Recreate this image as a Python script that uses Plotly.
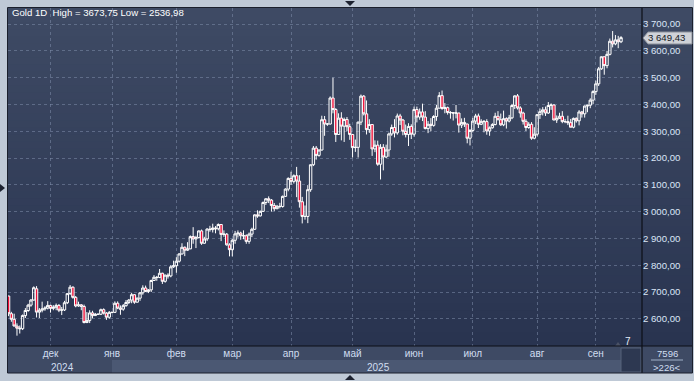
import plotly.graph_objects as go
import pandas as pd

# ---------------- data (XAU daily candles) ----------------
dates = pd.bdate_range("2024-11-11", "2025-09-12")

opens = [
    # Nov
    2685, 2619, 2598, 2573, 2565, 2563, 2612, 2631, 2651, 2670, 2712, 2625, 2632, 2637, 2640,
    # Dec
    2650, 2639, 2643, 2650, 2632, 2633, 2660, 2694, 2718, 2680, 2648, 2652, 2646, 2586, 2594,
    2622, 2612, 2617, 2617, 2634, 2621, 2606,
    # Jan
    2624, 2624, 2658, 2640, 2636, 2649, 2661, 2670, 2690, 2662, 2677, 2697, 2715, 2702, 2708,
    2743, 2755, 2754, 2770, 2740, 2763, 2760, 2794,
    # Feb
    2798, 2815, 2842, 2867, 2856, 2861, 2907, 2898, 2903, 2928, 2882, 2898, 2935, 2933, 2939,
    2936, 2952, 2915, 2916, 2876,
    # Mar
    2858, 2893, 2917, 2920, 2910, 2910, 2889, 2916, 2934, 2988, 2984, 3001, 3034, 3048, 3043,
    3023, 3011, 3020, 3019, 3057, 3084,
    # Apr
    3124, 3113, 3134, 3114, 3037, 2982, 2982, 3082, 3175, 3237, 3210, 3230, 3343, 3327, 3327,
    3424, 3381, 3288, 3349, 3319, 3344, 3317,
    # May
    3288, 3239, 3240, 3334, 3431, 3365, 3306, 3325, 3234, 3248, 3177, 3240, 3204, 3230, 3290,
    3314, 3294, 3357, 3342, 3300, 3288, 3318,
    # Jun
    3289, 3381, 3353, 3372, 3353, 3310, 3326, 3322, 3355, 3386, 3433, 3385, 3388, 3370, 3369,
    3368, 3368, 3323, 3333, 3327, 3274,
    # Jul
    3303, 3338, 3357, 3326, 3337, 3336, 3301, 3313, 3325, 3356, 3343, 3324, 3347, 3338, 3350,
    3396, 3432, 3387, 3368, 3337, 3314, 3326, 3274,
    # Aug
    3289, 3362, 3373, 3380, 3368, 3396, 3398, 3342, 3348, 3356, 3336, 3336, 3332, 3315, 3348,
    3339, 3372, 3365, 3394, 3397, 3416,
    # Sep
    3448, 3477, 3533, 3578, 3545, 3587, 3636, 3626, 3641, 3634,
]
highs = [
    2686, 2626, 2619, 2583, 2575, 2616, 2640, 2656, 2674, 2721, 2722, 2640, 2664, 2647, 2666,
    2652, 2651, 2657, 2655, 2644, 2667, 2695, 2726, 2721, 2685, 2664, 2655, 2653, 2625, 2632,
    2630, 2622, 2619, 2638, 2639, 2625, 2629,
    2626, 2665, 2665, 2650, 2655, 2670, 2674, 2697, 2692, 2679, 2700, 2725, 2724, 2711, 2746,
    2763, 2760, 2786, 2772, 2765, 2770, 2800, 2817,
    2830, 2845, 2882, 2870, 2886, 2911, 2942, 2910, 2930, 2933, 2906, 2938, 2947, 2955, 2946,
    2956, 2953, 2930, 2920, 2882,
    2898, 2928, 2930, 2925, 2930, 2915, 2922, 2940, 2990, 3005, 3004, 3038, 3050, 3057, 3047,
    3032, 3025, 3033, 3060, 3087, 3128,
    3149, 3139, 3167, 3136, 3055, 3023, 3099, 3176, 3245, 3245, 3232, 3358, 3357, 3330, 3430,
    3500, 3386, 3367, 3371, 3351, 3353, 3328,
    3290, 3269, 3336, 3437, 3435, 3415, 3345, 3327, 3266, 3265, 3252, 3252, 3250, 3295, 3325,
    3345, 3366, 3365, 3346, 3325, 3330, 3326,
    3392, 3392, 3385, 3403, 3375, 3338, 3349, 3360, 3398, 3446, 3452, 3405, 3392, 3375, 3371,
    3398, 3369, 3348, 3350, 3328, 3308,
    3350, 3365, 3366, 3345, 3342, 3345, 3318, 3330, 3369, 3375, 3366, 3377, 3352, 3361, 3402,
    3434, 3439, 3393, 3373, 3345, 3334, 3334, 3315,
    3363, 3385, 3390, 3392, 3409, 3404, 3401, 3359, 3369, 3375, 3346, 3358, 3346, 3351, 3352,
    3379, 3376, 3396, 3399, 3423, 3453,
    3489, 3540, 3579, 3579, 3600, 3646, 3674, 3659, 3656, 3655,
]
lows = [
    2610, 2589, 2572, 2537, 2545, 2558, 2603, 2626, 2645, 2668, 2605, 2603, 2624, 2630, 2635,
    2623, 2632, 2632, 2625, 2614, 2629, 2655, 2689, 2675, 2643, 2645, 2632, 2583, 2584, 2584,
    2602, 2611, 2614, 2614, 2616, 2596, 2600,
    2620, 2622, 2636, 2615, 2630, 2645, 2655, 2658, 2656, 2661, 2667, 2690, 2700, 2696, 2700,
    2741, 2742, 2752, 2730, 2735, 2750, 2755, 2790,
    2772, 2810, 2840, 2834, 2853, 2860, 2880, 2864, 2900, 2876, 2880, 2890, 2925, 2922, 2919,
    2930, 2890, 2906, 2873, 2833,
    2833, 2880, 2903, 2895, 2897, 2880, 2880, 2905, 2932, 2977, 2982, 2999, 3025, 3032, 3000,
    3002, 3009, 3012, 3015, 3055, 3076,
    3100, 3105, 3054, 3015, 2956, 2970, 2957, 3074, 3170, 3194, 3205, 3228, 3283, 3320, 3325,
    3367, 3260, 3287, 3266, 3260, 3300, 3268,
    3202, 3223, 3202, 3323, 3359, 3288, 3294, 3208, 3222, 3171, 3120, 3154, 3200, 3205, 3283,
    3277, 3287, 3323, 3285, 3277, 3245, 3271,
    3280, 3333, 3343, 3338, 3307, 3293, 3300, 3317, 3339, 3386, 3380, 3367, 3362, 3347, 3340,
    3348, 3295, 3312, 3316, 3255, 3247,
    3296, 3327, 3312, 3323, 3296, 3287, 3283, 3310, 3322, 3341, 3320, 3319, 3310, 3333, 3345,
    3383, 3381, 3351, 3325, 3301, 3309, 3268, 3270,
    3281, 3346, 3359, 3357, 3365, 3380, 3341, 3331, 3347, 3330, 3330, 3323, 3315, 3311, 3332,
    3322, 3351, 3351, 3371, 3386, 3401,
    3436, 3469, 3529, 3511, 3535, 3583, 3613, 3621, 3610, 3629,
]
closes = [
    2619, 2598, 2573, 2565, 2563, 2612, 2631, 2651, 2670, 2716, 2625, 2632, 2637, 2640, 2650,
    2639, 2643, 2650, 2632, 2633, 2660, 2694, 2718, 2680, 2648, 2652, 2646, 2586, 2594, 2622,
    2612, 2617, 2617, 2634, 2621, 2606, 2624,
    2624, 2658, 2640, 2636, 2649, 2661, 2670, 2690, 2662, 2677, 2697, 2715, 2702, 2708, 2743,
    2755, 2754, 2770, 2740, 2763, 2760, 2794, 2798,
    2815, 2842, 2867, 2856, 2861, 2907, 2898, 2903, 2928, 2882, 2898, 2935, 2933, 2939, 2936,
    2952, 2915, 2916, 2876, 2858,
    2893, 2917, 2920, 2910, 2910, 2889, 2916, 2934, 2988, 2984, 3001, 3034, 3048, 3043, 3023,
    3011, 3020, 3019, 3057, 3084, 3124,
    3113, 3134, 3114, 3037, 2982, 2982, 3082, 3175, 3237, 3210, 3230, 3343, 3327, 3327, 3424,
    3381, 3288, 3349, 3319, 3344, 3317, 3288,
    3239, 3240, 3334, 3431, 3365, 3306, 3325, 3234, 3248, 3177, 3240, 3204, 3230, 3290, 3314,
    3294, 3357, 3342, 3300, 3288, 3318, 3289,
    3381, 3353, 3372, 3353, 3310, 3326, 3322, 3355, 3386, 3433, 3385, 3388, 3370, 3369, 3368,
    3368, 3323, 3333, 3327, 3274, 3303,
    3338, 3357, 3326, 3337, 3336, 3301, 3313, 3325, 3356, 3343, 3324, 3347, 3338, 3350, 3396,
    3432, 3387, 3368, 3337, 3314, 3326, 3274, 3289,
    3362, 3373, 3380, 3368, 3396, 3398, 3342, 3348, 3356, 3336, 3336, 3332, 3315, 3348, 3339,
    3372, 3365, 3394, 3397, 3416, 3448,
    3477, 3533, 3578, 3545, 3587, 3636, 3626, 3641, 3634, 3649.43,
]

month_ticks = ["2024-12-02", "2025-01-01", "2025-02-03", "2025-03-03", "2025-04-01",
               "2025-05-01", "2025-06-02", "2025-07-01", "2025-08-01", "2025-09-01"]
month_labels = ["дек", "янв", "фев", "мар", "апр", "май", "июн", "июл", "авг", "сен"]
price_ticks = [2600, 2700, 2800, 2900, 3000, 3100, 3200, 3300, 3400, 3500, 3600, 3700]

title_text = "Gold 1D  High = 3673,75 Low = 2536,98"
last_price = closes[-1]
bars_visible = ">226<"
volume_text = "7596"

assert len(opens) == len(highs) == len(lows) == len(closes) == len(dates)

# ---------------- layout geometry helpers ----------------
W, H = 694, 381
L, R, T, B = 8, 642, 8, 346
FONT = "Liberation Sans"


def px(x):
    return (x - L) / (R - L)


def py(y):
    return (B - y) / (B - T)


def path(points):
    return "M " + " L ".join(f"{px(a):.5f},{py(b):.5f}" for a, b in points) + " Z"


shapes = []
# gradient background (plot + price scale): each band reaches the bottom,
# so later (darker) bands cover the earlier ones without seams
top_c = (62, 74, 100)
bot_c = (41, 52, 80)
n = 48
for i in range(n):
    f = i / (n - 1)
    c = tuple(round(top_c[k] + (bot_c[k] - top_c[k]) * f) for k in range(3))
    y0 = T + (B - T) * i / n
    shapes.append(dict(type="rect", xref="paper", yref="paper", layer="below",
                       x0=px(L), x1=px(692), y0=py(B), y1=py(y0),
                       fillcolor=f"rgb{c}", line=dict(width=0)))
# time scale rows
shapes.append(dict(type="rect", xref="paper", yref="paper", layer="below",
                   x0=px(L), x1=px(692), y0=py(373), y1=py(B),
                   fillcolor="#3e4a64", line=dict(width=0)))
shapes.append(dict(type="rect", xref="paper", yref="paper", layer="below",
                   x0=px(112), x1=px(R), y0=py(373), y1=py(360),
                   fillcolor="#4b5873", line=dict(width=0)))
# little scroll box
shapes.append(dict(type="rect", xref="paper", yref="paper", layer="above",
                   x0=px(621), x1=px(641), y0=py(372), y1=py(348),
                   fillcolor="#2d3851", line=dict(width=1, color="#56627a")))
shapes.append(dict(type="path", xref="paper", yref="paper", layer="above",
                   path=path([(615, 346), (621, 346), (618, 342)]),
                   fillcolor="#4a5266", line=dict(width=0)))
# separators
shapes.append(dict(type="line", xref="paper", yref="paper", layer="above",
                   x0=px(R), x1=px(R), y0=py(373), y1=py(T),
                   line=dict(color="#0c0f16", width=1.2)))
shapes.append(dict(type="line", xref="paper", yref="paper", layer="above",
                   x0=px(L), x1=px(692), y0=py(B), y1=py(B),
                   line=dict(color="#0c0f16", width=1.2)))
shapes.append(dict(type="rect", xref="paper", yref="paper", layer="above",
                   x0=px(7.5), x1=px(692.5), y0=py(373), y1=py(7.5),
                   line=dict(color="#1a1f2c", width=1)))
# bottom-right counter separator
shapes.append(dict(type="line", xref="paper", yref="paper", layer="above",
                   x0=px(651), x1=px(683), y0=py(360), y1=py(360),
                   line=dict(color="#9fb0c8", width=1)))
# window arrows
for pts in ([(345, 1), (355, 1), (350, 6)],
            [(0, 184), (5, 188), (0, 192)],
            [(345, 380), (355, 380), (350, 375)]):
    shapes.append(dict(type="path", xref="paper", yref="paper", layer="above",
                       path=path(pts), fillcolor="#1d2230", line=dict(width=0)))
# last price marker
shapes.append(dict(type="path", xref="paper", yref="paper", layer="above",
                   path=path([(643, 38), (648, 32), (692, 32), (692, 44), (648, 44)]),
                   fillcolor="#cfd2d8", line=dict(color="#8b909a", width=1)))

annotations = [
    dict(text=title_text, xref="paper", yref="paper", x=px(10), y=py(13),
         xanchor="left", yanchor="middle", showarrow=False,
         font=dict(family=FONT, size=9.6, color="#ffffff")),
    dict(text=f"{last_price:,.2f}".replace(",", " ").replace(".", ","),
         xref="paper", yref="y", x=px(646), y=last_price,
         xanchor="left", yanchor="middle", showarrow=False,
         font=dict(family=FONT, size=9.6, color="#141822")),
    dict(text="2024", xref="paper", yref="paper", x=px(62), y=py(367),
         xanchor="center", yanchor="middle", showarrow=False,
         font=dict(family=FONT, size=10, color="#d0ddf0")),
    dict(text="2025", xref="paper", yref="paper", x=px(378), y=py(367),
         xanchor="center", yanchor="middle", showarrow=False,
         font=dict(family=FONT, size=10, color="#d0ddf0")),
    dict(text=volume_text, xref="paper", yref="paper", x=px(667), y=py(353),
         xanchor="center", yanchor="middle", showarrow=False,
         font=dict(family=FONT, size=9.6, color="#d0ddf0")),
    dict(text=bars_visible, xref="paper", yref="paper", x=px(667), y=py(367),
         xanchor="center", yanchor="middle", showarrow=False,
         font=dict(family=FONT, size=9.6, color="#d0ddf0")),
    dict(text="7", xref="paper", yref="paper", x=px(628), y=py(341),
         xanchor="center", yanchor="middle", showarrow=False,
         font=dict(family=FONT, size=10, color="#e6edf8")),
]

fig = go.Figure(go.Candlestick(
    x=dates, open=opens, high=highs, low=lows, close=closes,
    increasing=dict(line=dict(color="#ffffff", width=1), fillcolor="rgba(0,0,0,0)"),
    decreasing=dict(line=dict(color="#ffffff", width=1), fillcolor="#ee1038"),
    whiskerwidth=0, hoverinfo="skip", showlegend=False,
))

grid = dict(showgrid=True, gridcolor="rgba(125,140,170,0.55)", gridwidth=1, griddash="3px,3px")

fig.update_layout(
    width=W, height=H,
    margin=dict(l=L, r=W - R, t=T, b=H - B, pad=0, autoexpand=False),
    paper_bgcolor="#bfc9d6", plot_bgcolor="rgba(0,0,0,0)",
    separators=", ",
    boxgap=0.15, boxgroupgap=0.0,
    shapes=shapes, annotations=annotations,
    font=dict(family=FONT),
    xaxis=dict(
        type="date",
        rangebreaks=[dict(bounds=["sat", "mon"])],
        range=["2024-11-08 19:00", "2025-09-23 12:00"],
        rangeslider=dict(visible=False),
        tickmode="array", tickvals=month_ticks, ticktext=month_labels,
        ticks="", tickfont=dict(family=FONT, size=10, color="#d0ddf0"),
        showline=False, zeroline=False, automargin=False, fixedrange=True,
        **grid,
    ),
    yaxis=dict(
        side="right", range=[2498.5, 3760],
        tickmode="array", tickvals=price_ticks, tickformat=",.2f",
        ticks="", tickfont=dict(family=FONT, size=9.6, color="#dbe6f7"),
        showline=False, zeroline=False, automargin=False, fixedrange=True,
        **grid,
    ),
)

fig.write_html("out.html", include_plotlyjs=True, full_html=True,
               config=dict(displayModeBar=False, staticPlot=True))
